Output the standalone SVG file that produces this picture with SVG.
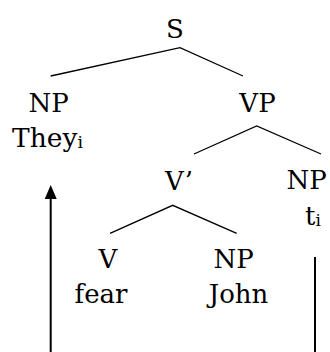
<svg xmlns="http://www.w3.org/2000/svg" width="330" height="352" viewBox="0 0 330 352">
<style>
text{font-family:'DejaVu Serif',serif;font-size:26px;fill:#000}
.m{text-anchor:middle}
.sub{font-size:17px}
.edge{stroke:#000;stroke-width:1.3;fill:none}
.mv{stroke:#000;stroke-width:2;fill:none}
</style>
<rect width="330" height="352" fill="#fff"/>
<g id="connectors">
<path class="edge" d="M50.7 76 L180 47.7 L243 76"/>
<path class="edge" d="M194 154 L256.7 126 L321 154"/>
<path class="edge" d="M110 233.3 L172.7 205.3 L236.7 233.3"/>
<line class="mv" x1="50.7" y1="198" x2="50.7" y2="352"/>
<polygon points="50.7,185 44.7,199 56.7,199" fill="#000"/>
<line class="mv" x1="315" y1="257" x2="315" y2="352"/>
</g>
<g id="S"><text class="m" x="175" y="38">S</text></g>
<g id="NP1"><text class="m" x="48.5" y="112">NP</text><text x="12" y="147" textLength="71" lengthAdjust="spacingAndGlyphs">They<tspan class="sub" dy="1">i</tspan></text></g>
<g id="VP"><text class="m" x="257.5" y="112">VP</text></g>
<g id="Vbar"><text x="165" y="190">V’</text></g>
<g id="NP2"><text class="m" x="306.5" y="189">NP</text><text x="305" y="225">t<tspan class="sub" dy="1">i</tspan></text></g>
<g id="V"><text class="m" x="108" y="268">V</text><text class="m" x="101" y="303">fear</text></g>
<g id="NP3"><text class="m" x="233.5" y="268">NP</text><text class="m" x="238.5" y="303">John</text></g>
</svg>
